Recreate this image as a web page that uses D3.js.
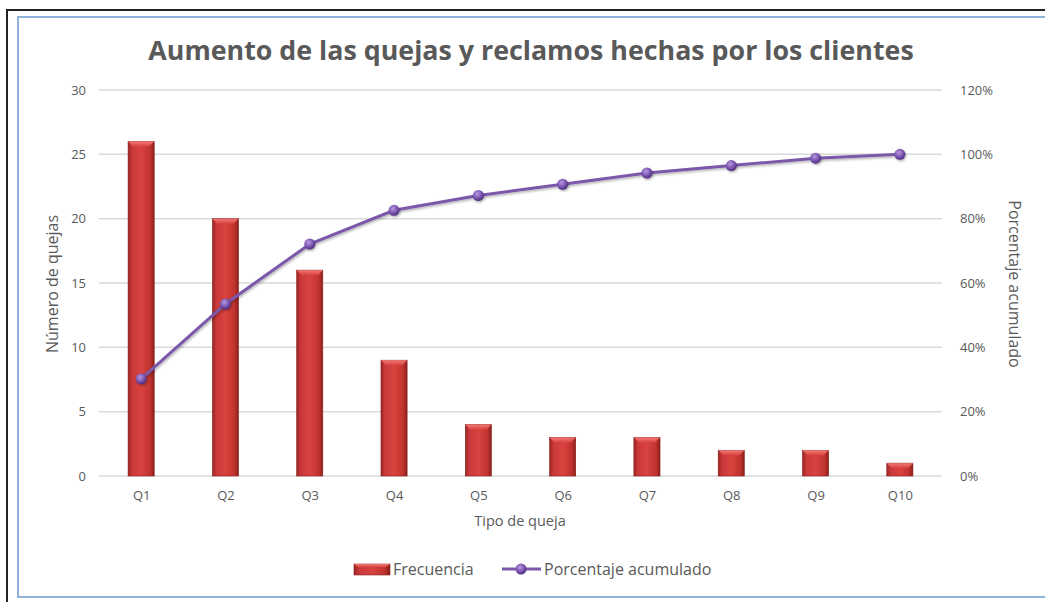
<!DOCTYPE html>
<html>
<head>
<meta charset="utf-8">
<script src="https://cdn.jsdelivr.net/npm/d3@7"></script>
<style>
  body { margin: 0; background: #fff; }
  svg text { font-family: "Open Sans", "DejaVu Sans", sans-serif; fill: #595959; }
</style>
</head>
<body>
<svg id="chart" width="1045" height="602"></svg>
<script>
// datos
var categorias = ['Q1', 'Q2', 'Q3', 'Q4', 'Q5', 'Q6', 'Q7', 'Q8', 'Q9', 'Q10'];
var frecuencia = [26, 20, 16, 9, 4, 3, 3, 2, 2, 1];
var acumulado = [30.2, 53.5, 72.1, 82.6, 87.2, 90.7, 94.2, 96.5, 98.8, 100];
var ticksIzq = [0, 5, 10, 15, 20, 25, 30];
var ticksDer = [0, 20, 40, 60, 80, 100, 120];

var svg = d3.select('#chart');
var margin = {top: 90, left: 99, right: 103, bottom: 126},
    width = 1045 - margin.left - margin.right,
    height = 602 - margin.top - margin.bottom;

// marcos
svg.append('rect').attr('x', 7).attr('y', 10).attr('width', 1050).attr('height', 600)
  .attr('fill', 'none').attr('stroke', '#222').attr('stroke-width', 2);
svg.append('rect').attr('x', 18).attr('y', 17).attr('width', 1040).attr('height', 580)
  .attr('fill', '#fff').attr('stroke', '#8fb2dc').attr('stroke-width', 2);

var defs = svg.append('defs');
var grad = defs.append('linearGradient').attr('id', 'barra')
  .attr('x1', '0%').attr('x2', '100%').attr('y1', '0%').attr('y2', '0%');
grad.append('stop').attr('offset', '0%').attr('stop-color', '#9a2522');
grad.append('stop').attr('offset', '15%').attr('stop-color', '#c9383a');
grad.append('stop').attr('offset', '50%').attr('stop-color', '#d9433f');
grad.append('stop').attr('offset', '85%').attr('stop-color', '#c0332f');
grad.append('stop').attr('offset', '100%').attr('stop-color', '#8a1e1b');

var brillo = defs.append('linearGradient').attr('id', 'brillo')
  .attr('x1', '0%').attr('x2', '0%').attr('y1', '0%').attr('y2', '100%');
brillo.append('stop').attr('offset', '0%').attr('stop-color', '#f07a76');
brillo.append('stop').attr('offset', '100%').attr('stop-color', '#d9433f');

var punto = defs.append('radialGradient').attr('id', 'punto')
  .attr('cx', '40%').attr('cy', '35%').attr('r', '65%');
punto.append('stop').attr('offset', '0%').attr('stop-color', '#b79ae0');
punto.append('stop').attr('offset', '60%').attr('stop-color', '#7b55b0');
punto.append('stop').attr('offset', '100%').attr('stop-color', '#4f2f80');

var sombra = defs.append('filter').attr('id', 'sombra')
  .attr('x', '-20%').attr('y', '-20%').attr('width', '140%').attr('height', '140%');
sombra.append('feDropShadow').attr('dx', 1).attr('dy', 1.5).attr('stdDeviation', 1.2)
  .attr('flood-color', '#000').attr('flood-opacity', 0.3);

var g = svg.append('g').attr('transform', 'translate(' + margin.left + ',' + margin.top + ')');

var x = d3.scaleBand().domain(categorias).range([0, width]).paddingInner(0.69).paddingOuter(0.345);
var xc = d3.scalePoint().domain(categorias).range([0, width]).padding(0.5);
var y = d3.scaleLinear().domain([0, 30]).range([height, 0]);
var y2 = d3.scaleLinear().domain([0, 120]).range([height, 0]);

// lineas de cuadricula
g.append('g').selectAll('line').data(ticksIzq).enter().append('line')
  .attr('x1', 0).attr('x2', width)
  .attr('y1', function(d) { return y(d); }).attr('y2', function(d) { return y(d); })
  .attr('stroke', '#d9d9d9').attr('stroke-width', 1.5);

// ejes
var ejeIzq = g.append('g').call(d3.axisLeft(y).tickValues(ticksIzq).tickSize(0).tickPadding(13));
ejeIzq.select('.domain').remove();
ejeIzq.selectAll('text').style('font-size', '13px');

var ejeDer = g.append('g').attr('transform', 'translate(' + width + ',0)')
  .call(d3.axisRight(y2).tickValues(ticksDer).tickSize(0).tickPadding(18)
    .tickFormat(function(d) { return d + '%'; }));
ejeDer.select('.domain').remove();
ejeDer.selectAll('text').style('font-size', '13px');

var ejeX = g.append('g').attr('transform', 'translate(0,' + height + ')')
  .call(d3.axisBottom(xc).tickSize(0).tickPadding(15));
ejeX.select('.domain').remove();
ejeX.selectAll('text').style('font-size', '13px');

// barras
var barras = g.append('g').selectAll('.barra').data(frecuencia).enter().append('g')
  .attr('class', 'barra')
  .attr('transform', function(d, i) { return 'translate(' + x(categorias[i]) + ',' + y(d) + ')'; });
barras.append('rect')
  .attr('width', x.bandwidth())
  .attr('height', function(d) { return height - y(d); })
  .attr('fill', 'url(#barra)')
  .attr('stroke', '#8a1e1b').attr('stroke-width', 0.6);
barras.append('path')
  .attr('d', function() {
    var w = x.bandwidth();
    return 'M0,0 L' + w + ',0 L' + (w - 5) + ',5 L5,5 Z';
  })
  .attr('fill', 'url(#brillo)');

// linea de porcentaje acumulado
var linea = d3.line()
  .x(function(d, i) { return xc(categorias[i]); })
  .y(function(d) { return y2(d); });
g.append('path').datum(acumulado)
  .attr('d', linea)
  .attr('fill', 'none').attr('stroke', '#7b58ab').attr('stroke-width', 3)
  .attr('filter', 'url(#sombra)');
g.append('g').selectAll('circle').data(acumulado).enter().append('circle')
  .attr('cx', function(d, i) { return xc(categorias[i]); })
  .attr('cy', function(d) { return y2(d); })
  .attr('r', 5.5)
  .attr('fill', 'url(#punto)')
  .attr('filter', 'url(#sombra)');

// titulos
svg.append('text').attr('x', 531).attr('y', 60).attr('text-anchor', 'middle')
  .style('font-size', '26.8px').style('font-weight', 'bold')
  .text('Aumento de las quejas y reclamos hechas por los clientes');
svg.append('text').attr('x', 520).attr('y', 526).attr('text-anchor', 'middle')
  .style('font-size', '14.5px').text('Tipo de queja');
svg.append('text').attr('transform', 'translate(58,284) rotate(-90)').attr('text-anchor', 'middle')
  .style('font-size', '16px').text('Número de quejas');
svg.append('text').attr('transform', 'translate(1009,284) rotate(90)').attr('text-anchor', 'middle')
  .style('font-size', '16px').text('Porcentaje acumulado');

// leyenda
var ley = svg.append('g');
ley.append('rect').attr('x', 354).attr('y', 564).attr('width', 36).attr('height', 11)
  .attr('fill', 'url(#barra)').attr('stroke', '#8a1e1b').attr('stroke-width', 0.6);
ley.append('path').attr('d', 'M354,564 L390,564 L386,567 L358,567 Z').attr('fill', 'url(#brillo)');
ley.append('text').attr('x', 393).attr('y', 575).style('font-size', '16px').text('Frecuencia');
ley.append('line').attr('x1', 502).attr('x2', 541).attr('y1', 569).attr('y2', 569)
  .attr('stroke', '#7b58ab').attr('stroke-width', 3);
ley.append('circle').attr('cx', 521).attr('cy', 569).attr('r', 5.5).attr('fill', 'url(#punto)');
ley.append('text').attr('x', 544).attr('y', 575).style('font-size', '16px').text('Porcentaje acumulado');
</script>
</body>
</html>
